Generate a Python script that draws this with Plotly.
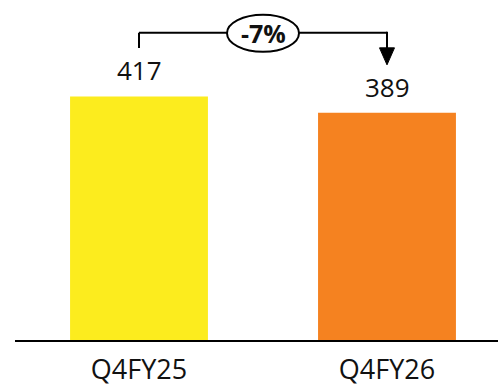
import plotly.graph_objects as go

# Quarterly values
categories = ["Q4FY25", "Q4FY26"]
values = [417, 389]
bar_colors = ["#FCEC1E", "#F58220"]
change_label = "-7%"

FONT = "Open Sans"

fig = go.Figure(
    go.Bar(
        x=categories,
        y=values,
        marker=dict(color=bar_colors, line=dict(width=0)),
        width=0.556,
        hoverinfo="skip",
    )
)

# Value labels above each bar
for cat, val in zip(categories, values):
    fig.add_annotation(
        x=cat, y=val, text=str(val), showarrow=False,
        yanchor="bottom", yshift=6,
        font=dict(family=FONT, size=26, color="#111111"),
    )

# Bracket connecting the two bars with a downward arrow
top = 526
left_foot = 500
arrow_tip = 471
line_style = dict(color="black", width=2)
fig.add_shape(type="line", xref="x", yref="y", x0=0, x1=0, y0=left_foot, y1=top,
              line=line_style)
fig.add_shape(type="line", xref="x", yref="y", x0=0, x1=1, y0=top, y1=top,
              line=line_style)
fig.add_shape(type="line", xref="x", yref="y", xsizemode="pixel", ysizemode="pixel",
              xanchor=1, yanchor=arrow_tip, x0=0, x1=0, y0=16, y1=33,
              line=line_style)
# Solid triangular arrowhead
fig.add_shape(type="path", xref="x", yref="y", xsizemode="pixel", ysizemode="pixel",
              xanchor=1, yanchor=arrow_tip, path="M -7.5 17 L 7.5 17 L 0 0 Z",
              fillcolor="black", line=dict(color="black", width=1))

# Ellipse with the percentage change
fig.add_shape(
    type="circle", xref="x", yref="y", xsizemode="pixel", ysizemode="pixel",
    xanchor=0.5, yanchor=top, x0=-36, x1=36, y0=-19, y1=18,
    line=dict(color="black", width=2), fillcolor="white",
)
fig.add_annotation(
    x=0.5, y=top, xref="x", yref="y", text=f"<b>{change_label}</b>",
    showarrow=False, font=dict(family=FONT, size=25, color="#111111"),
)

fig.update_layout(
    width=498, height=386,
    margin=dict(l=15, r=0, t=0, b=46),
    paper_bgcolor="white", plot_bgcolor="white",
    showlegend=False,
    bargap=0.4,
    xaxis=dict(
        range=[-0.5, 1.4476], showline=True, linecolor="black", linewidth=2,
        ticks="outside", ticklen=5, tickcolor="rgba(0,0,0,0)",
        tickfont=dict(family=FONT, size=27, color="#111111"),
        showgrid=False, zeroline=False, fixedrange=True,
    ),
    yaxis=dict(range=[0, 582], visible=False, showgrid=False, zeroline=False),
)

fig.write_html("out.html")
